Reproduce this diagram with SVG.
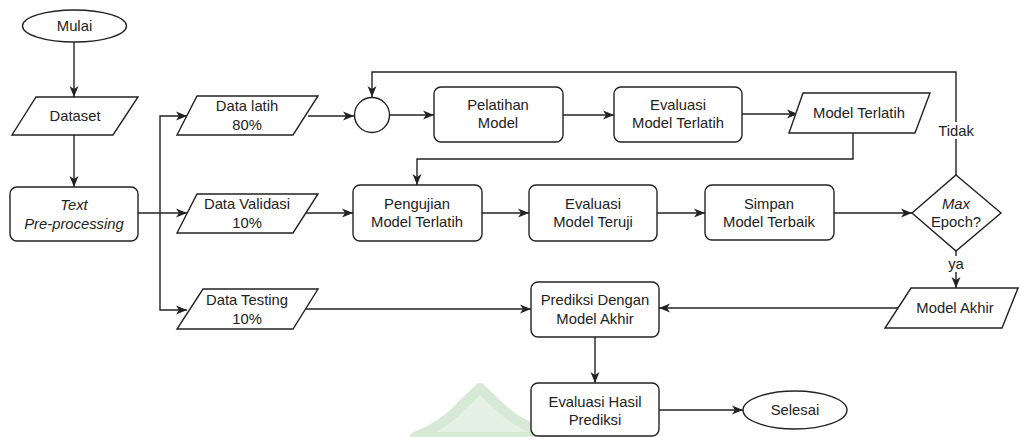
<svg xmlns="http://www.w3.org/2000/svg" width="1019" height="437" viewBox="0 0 1019 437">
<style>
.s{fill:#fff;stroke:#222;stroke-width:1.4}
.t{font-family:"Liberation Sans",Arial,sans-serif;font-size:14.8px;fill:#222;text-anchor:middle}
.i{font-style:italic}
.c{fill:none;stroke:#222;stroke-width:1.4}
.lb{fill:#fff}
</style>
<defs>
<marker id="a" markerUnits="userSpaceOnUse" markerWidth="12" markerHeight="10" refX="11" refY="5" orient="auto">
<path d="M0,0.5 L11,5 L0,9.5 L3,5 Z" fill="#222"/>
</marker>
</defs>
<rect width="1019" height="437" fill="#fff"/>
<g id="watermark">
<path d="M415,437 Q445,425 462,405 L480,388 L498,405 Q520,428 560,437 Z" fill="#e4f1e4" stroke="#d6ead6" stroke-width="10" stroke-linejoin="round"/>
</g>
<g id="connectors">
<path class="c" d="M74,42 V97" marker-end="url(#a)"/>
<path class="c" d="M74,135 V187" marker-end="url(#a)"/>
<path class="c" d="M138,213 H187" marker-end="url(#a)"/>
<path class="c" d="M160,213 V116 H187" marker-end="url(#a)"/>
<path class="c" d="M160,213 V310 H187" marker-end="url(#a)"/>
<path class="c" d="M308,116 H354" marker-end="url(#a)"/>
<path class="c" d="M389,115 H434" marker-end="url(#a)"/>
<path class="c" d="M563,115 H614" marker-end="url(#a)"/>
<path class="c" d="M742,114 H798" marker-end="url(#a)"/>
<path class="c" d="M853,133 V159 H417 V185" marker-end="url(#a)"/>
<path class="c" d="M306,213 H353" marker-end="url(#a)"/>
<path class="c" d="M482,213 H529" marker-end="url(#a)"/>
<path class="c" d="M657,213 H705" marker-end="url(#a)"/>
<path class="c" d="M834,213 H912" marker-end="url(#a)"/>
<path class="c" d="M956,175 V72 H372 V97" marker-end="url(#a)"/>
<path class="c" d="M956,251 V288" marker-end="url(#a)"/>
<path class="c" d="M898,308 H659" marker-end="url(#a)"/>
<path class="c" d="M306,309 H531" marker-end="url(#a)"/>
<path class="c" d="M595,337 V383" marker-end="url(#a)"/>
<path class="c" d="M659,410 H743" marker-end="url(#a)"/>
<rect class="lb" x="938" y="122" width="36" height="17"/>
<text class="t" x="956" y="136">Tidak</text>
<rect class="lb" x="946" y="256" width="20" height="16"/>
<text class="t" x="956" y="269">ya</text>
</g>
<g id="mulai">
<ellipse class="s" cx="74.5" cy="26" rx="52" ry="16"/>
<text class="t" x="74.5" y="31">Mulai</text>
</g>
<g id="dataset">
<polygon class="s" points="36,97 138,97 113,135 12,135"/>
<text class="t" x="75" y="121">Dataset</text>
</g>
<g id="preprocessing">
<rect class="s" x="10" y="187" width="128" height="54" rx="7"/>
<text class="t i" x="74" y="210">Text</text>
<text class="t i" x="74" y="229">Pre-processing</text>
</g>
<g id="datalatih">
<polygon class="s" points="197,96 318,96 293,135 177,135"/>
<text class="t" x="247" y="111">Data latih</text>
<text class="t" x="247" y="130">80%</text>
</g>
<g id="datavalidasi">
<polygon class="s" points="197,194 318,194 293,233 177,233"/>
<text class="t" x="247" y="209">Data Validasi</text>
<text class="t" x="247" y="228">10%</text>
</g>
<g id="datatesting">
<polygon class="s" points="203,289 318,289 293,329 177,329"/>
<text class="t" x="247" y="305">Data Testing</text>
<text class="t" x="247" y="324">10%</text>
</g>
<g id="merge">
<circle class="s" cx="372" cy="115" r="17.5"/>
</g>
<g id="pelatihan">
<rect class="s" x="434" y="87" width="129" height="55" rx="7"/>
<text class="t" x="498" y="110">Pelatihan</text>
<text class="t" x="498" y="128">Model</text>
</g>
<g id="evaluasiterlatih">
<rect class="s" x="614" y="87" width="128" height="55" rx="7"/>
<text class="t" x="678" y="110">Evaluasi</text>
<text class="t" x="678" y="128">Model Terlatih</text>
</g>
<g id="modelterlatih">
<polygon class="s" points="803,93 930,93 915,133 789,133"/>
<text class="t" x="859" y="118">Model Terlatih</text>
</g>
<g id="pengujian">
<rect class="s" x="353" y="185" width="129" height="56" rx="7"/>
<text class="t" x="417" y="209">Pengujian</text>
<text class="t" x="417" y="227">Model Terlatih</text>
</g>
<g id="evaluasiteruji">
<rect class="s" x="529" y="185" width="128" height="56" rx="7"/>
<text class="t" x="593" y="209">Evaluasi</text>
<text class="t" x="593" y="227">Model Teruji</text>
</g>
<g id="simpan">
<rect class="s" x="705" y="185" width="129" height="55" rx="7"/>
<text class="t" x="769" y="209">Simpan</text>
<text class="t" x="769" y="227">Model Terbaik</text>
</g>
<g id="maxepoch">
<polygon class="s" points="956,175 1001,213 956,251 912,213"/>
<text class="t i" x="956" y="209">Max</text>
<text class="t" x="956" y="227">Epoch?</text>
</g>
<g id="modelakhir">
<polygon class="s" points="911,288 1018,288 1002,328 885,328"/>
<text class="t" x="955" y="313">Model Akhir</text>
</g>
<g id="prediksi">
<rect class="s" x="531" y="282" width="128" height="55" rx="7"/>
<text class="t" x="595" y="305">Prediksi Dengan</text>
<text class="t" x="595" y="324">Model Akhir</text>
</g>
<g id="evaluasihasil">
<rect class="s" x="531" y="383" width="128" height="53" rx="7"/>
<text class="t" x="595" y="407">Evaluasi Hasil</text>
<text class="t" x="595" y="425">Prediksi</text>
</g>
<g id="selesai">
<ellipse class="s" cx="795" cy="410" rx="52" ry="19"/>
<text class="t" x="795" y="415">Selesai</text>
</g>
</svg>
